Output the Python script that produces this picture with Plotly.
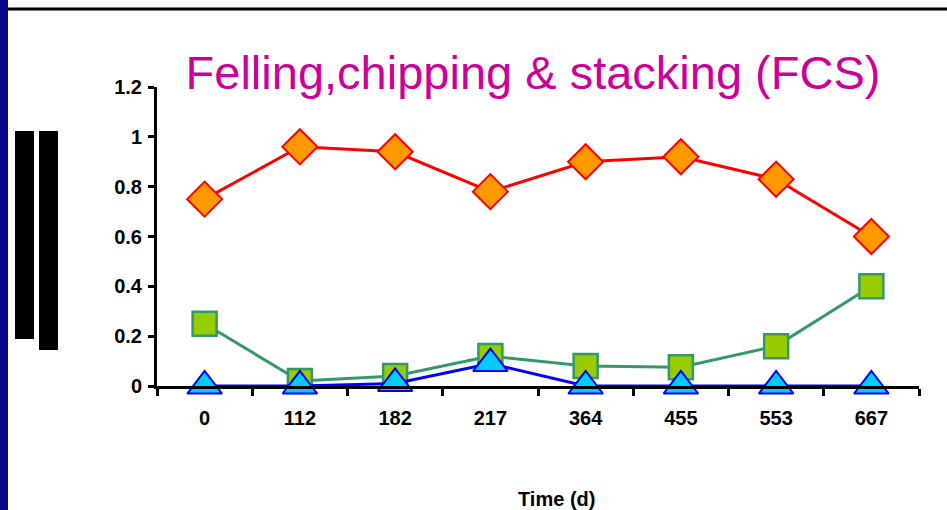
import plotly.graph_objects as go

categories = ["0", "112", "182", "217", "364", "455", "553", "667"]
red_series = [0.75, 0.96, 0.94, 0.78, 0.90, 0.92, 0.83, 0.60]
green_series = [0.25, 0.02, 0.04, 0.12, 0.08, 0.075, 0.16, 0.40]
blue_series = [0.0, 0.0, 0.01, 0.09, 0.0, 0.0, 0.0, 0.0]
y_ticks = [0, 0.2, 0.4, 0.6, 0.8, 1, 1.2]
y_tick_labels = ["0", "0.2", "0.4", "0.6", "0.8", "1", "1.2"]

W, H = 947, 510
L, R, T, B = 157, 28, 87, 124
pw, ph = W - L - R, H - T - B

def px(x):
    return (x - L) / pw

def py(y):
    return (H - B - y) / ph

FONT = "Liberation Sans, Arial, sans-serif"

fig = go.Figure()
fig.add_trace(go.Scatter(
    x=categories, y=red_series, mode="lines+markers",
    line=dict(color="#FF0000", width=3),
    marker=dict(symbol="diamond", size=27, color="#FF9900",
                line=dict(color="#FF0000", width=2)),
    cliponaxis=False, showlegend=False))
fig.add_trace(go.Scatter(
    x=categories, y=green_series, mode="lines+markers",
    line=dict(color="#339966", width=3),
    marker=dict(symbol="square", size=24, color="#99CC00",
                line=dict(color="#339966", width=2.5)),
    cliponaxis=False, showlegend=False))
fig.add_trace(go.Scatter(
    x=categories, y=blue_series, mode="lines+markers",
    line=dict(color="#0000FF", width=3),
    marker=dict(symbol="triangle-up", size=30, color="#00CCFF",
                line=dict(color="#0000FF", width=2)),
    cliponaxis=False, showlegend=False))

shapes = [
    dict(type="rect", xref="paper", yref="paper", x0=px(0), x1=px(8), y0=py(510), y1=py(0),
         fillcolor="#06068F", line=dict(width=0), layer="below"),
    dict(type="rect", xref="paper", yref="paper", x0=px(8), x1=px(947), y0=py(10.5), y1=py(7.5),
         fillcolor="#000000", line=dict(width=0)),
    dict(type="rect", xref="paper", yref="paper", x0=px(15), x1=px(34), y0=py(339), y1=py(131),
         fillcolor="#000000", line=dict(width=0)),
    dict(type="rect", xref="paper", yref="paper", x0=px(39), x1=px(58), y0=py(350), y1=py(131),
         fillcolor="#000000", line=dict(width=0)),
]

annotations = [
    dict(text="<b>Time (d)</b>", xref="paper", yref="paper", x=px(556), y=py(499),
         xanchor="center", yanchor="middle", showarrow=False,
         font=dict(size=20, family=FONT, color="black")),
]

fig.update_layout(
    width=W, height=H,
    margin=dict(l=L, r=R, t=T, b=B),
    paper_bgcolor="white", plot_bgcolor="white",
    font=dict(family=FONT, color="black"),
    shapes=shapes,
    annotations=annotations,
    title=dict(text="Felling,chipping &amp; stacking (FCS)",
               font=dict(size=47, color="#CC0099", family=FONT),
               x=px(533), xanchor="center", xref="paper",
               y=1 - 73 / H, yanchor="middle"),
    xaxis=dict(
        type="category", range=[-0.5, 7.5],
        showline=True, linecolor="black", linewidth=3,
        ticks="outside", tickson="boundaries", ticklen=7, tickwidth=3, tickcolor="black",
        showgrid=False, zeroline=False,
        tickfont=dict(size=20, family=FONT, weight="bold"),
        ticklabelstandoff=12,
    ),
    yaxis=dict(
        range=[0, 1.2], tickvals=y_ticks, ticktext=y_tick_labels,
        showline=True, linecolor="black", linewidth=3,
        ticks="outside", ticklen=6, tickwidth=3, tickcolor="black",
        showgrid=False, zeroline=False,
        tickfont=dict(size=20, family=FONT, weight="bold"),
        ticklabelstandoff=2,
    ),
)

fig.write_html("out.html", config={"displayModeBar": False},
               post_script="document.body.style.margin='0px';")
